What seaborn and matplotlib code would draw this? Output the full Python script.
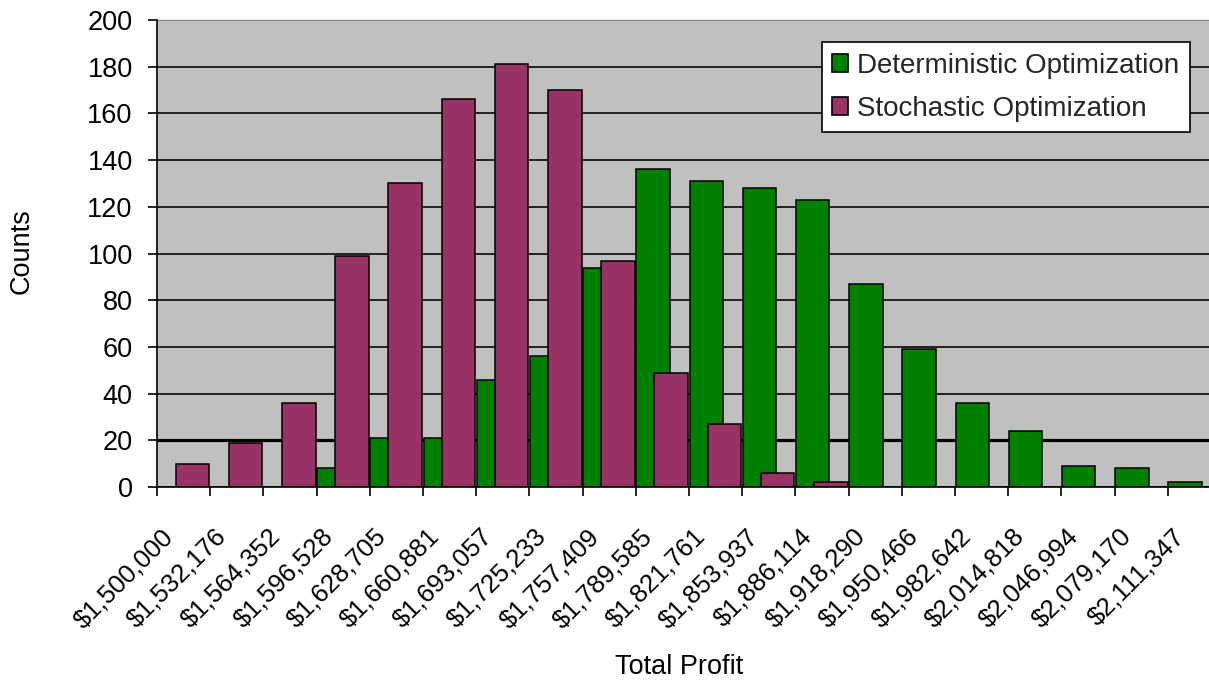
import numpy as np
import matplotlib
matplotlib.use("Agg")
import matplotlib.pyplot as plt
import matplotlib.transforms as mtransforms
from matplotlib.patches import Patch
import seaborn as sns

# Histogram bins of total profit and the counts for each optimization approach
profit_bins = ["$1,500,000", "$1,532,176", "$1,564,352", "$1,596,528", "$1,628,705",
               "$1,660,881", "$1,693,057", "$1,725,233", "$1,757,409", "$1,789,585",
               "$1,821,761", "$1,853,937", "$1,886,114", "$1,918,290", "$1,950,466",
               "$1,982,642", "$2,014,818", "$2,046,994", "$2,079,170", "$2,111,347"]
deterministic = [0, 0, 0, 8, 21, 21, 46, 56, 94, 136, 131, 128, 123, 87, 59, 36, 24, 9, 8, 2]
stochastic = [10, 19, 36, 99, 130, 166, 181, 170, 97, 49, 27, 6, 2, 0, 0, 0, 0, 0, 0, 0]
series_names = ["Deterministic Optimization", "Stochastic Optimization"]
y_ticks = list(range(0, 201, 20))

GREEN = "#008000"
PLUM = "#993366"
PLOT_BG = "#C0C0C0"

sns.set_style("white")
plt.rcParams["font.family"] = ["Liberation Sans", "DejaVu Sans"]

W, H = 1209, 680
fig = plt.figure(figsize=(W / 100, H / 100), dpi=100)
fig.patch.set_facecolor("white")
# plot area (pixel geometry of the Excel-style chart area)
ax = fig.add_axes([157 / W, 1 - 487 / H, 1064 / W, 467 / H])
ax.set_facecolor(PLOT_BG)

idx = np.arange(len(profit_bins))
bar_w = 0.63
# overlapping clustered bars: first series hugs the left of each bin, second the right
green_pos = idx - 0.5 + 0.01 + bar_w / 2
plum_pos = idx + 0.5 - 0.02 - bar_w / 2

sns.barplot(x=green_pos, y=deterministic, native_scale=True, orient="x", width=bar_w,
            color=GREEN, saturation=1, edgecolor="black", linewidth=1.1,
            errorbar=None, ax=ax, zorder=3)
sns.barplot(x=plum_pos, y=stochastic, native_scale=True, orient="x", width=bar_w,
            color=PLUM, saturation=1, edgecolor="black", linewidth=1.1,
            errorbar=None, ax=ax, zorder=4)

ax.set_xlim(-0.5, len(profit_bins) - 0.5)
ax.set_ylim(y_ticks[0], y_ticks[-1])

# horizontal gridlines behind the bars
ax.set_axisbelow(True)
ax.yaxis.grid(True, color="#151515", linewidth=1.3)
ax.xaxis.grid(False)
ax.axhline(y_ticks[1], color="black", linewidth=2.3, zorder=1)

for side in ("left", "bottom"):
    ax.spines[side].set_color("black")
    ax.spines[side].set_linewidth(1.2)
    ax.spines[side].set_zorder(5)
ax.spines["top"].set_color("#8c8c8c")
ax.spines["top"].set_linewidth(1.0)
ax.spines["right"].set_visible(False)

ax.set_yticks(y_ticks)
ax.set_yticklabels([str(v) for v in y_ticks])
ax.tick_params(axis="y", length=6.5, width=1.2, pad=11, labelsize=19.5,
               direction="out", color="black", labelcolor="black", left=True)

ax.set_xticks(idx)
ax.set_xticklabels(profit_bins, rotation=45, ha="right", va="center",
                   rotation_mode="anchor", fontsize=18.5)
ax.tick_params(axis="x", which="major", length=0, pad=33, labelcolor="black")
ax.set_xticks(np.arange(-0.5, len(profit_bins), 1), minor=True)
ax.tick_params(axis="x", which="minor", length=6.5, width=1.2, direction="out",
               color="black", bottom=True)
shift = mtransforms.ScaledTranslation(-14 / 100, 0, fig.dpi_scale_trans)
for lbl in ax.get_xticklabels():
    lbl.set_transform(lbl.get_transform() + shift)

ax.set_xlabel("Total Profit", fontsize=19.5, va="center", color="black")
ax.xaxis.set_label_coords((679 - 157) / 1064, (487 - 667) / 467)
ax.set_ylabel("Counts", fontsize=19.5, va="center", color="black")
ax.yaxis.set_label_coords((22 - 157) / 1064, (487 - 251) / 467)

handles = [Patch(facecolor=GREEN, edgecolor="black", linewidth=1.2),
           Patch(facecolor=PLUM, edgecolor="black", linewidth=1.2)]
leg = ax.legend(handles, series_names, loc="upper right",
                bbox_to_anchor=(1190 / W, 1 - 42 / H), bbox_transform=fig.transFigure,
                borderaxespad=0, frameon=True, fancybox=False, shadow=False,
                fontsize=20, handlelength=0.58, handleheight=0.62,
                handletextpad=0.32, labelspacing=0.62, borderpad=0.38)
frame = leg.get_frame()
frame.set_edgecolor("black")
frame.set_linewidth(1.2)
frame.set_facecolor("white")
frame.set_alpha(1)
leg.set_zorder(10)

fig.savefig("out.png", dpi=100, facecolor="white")
